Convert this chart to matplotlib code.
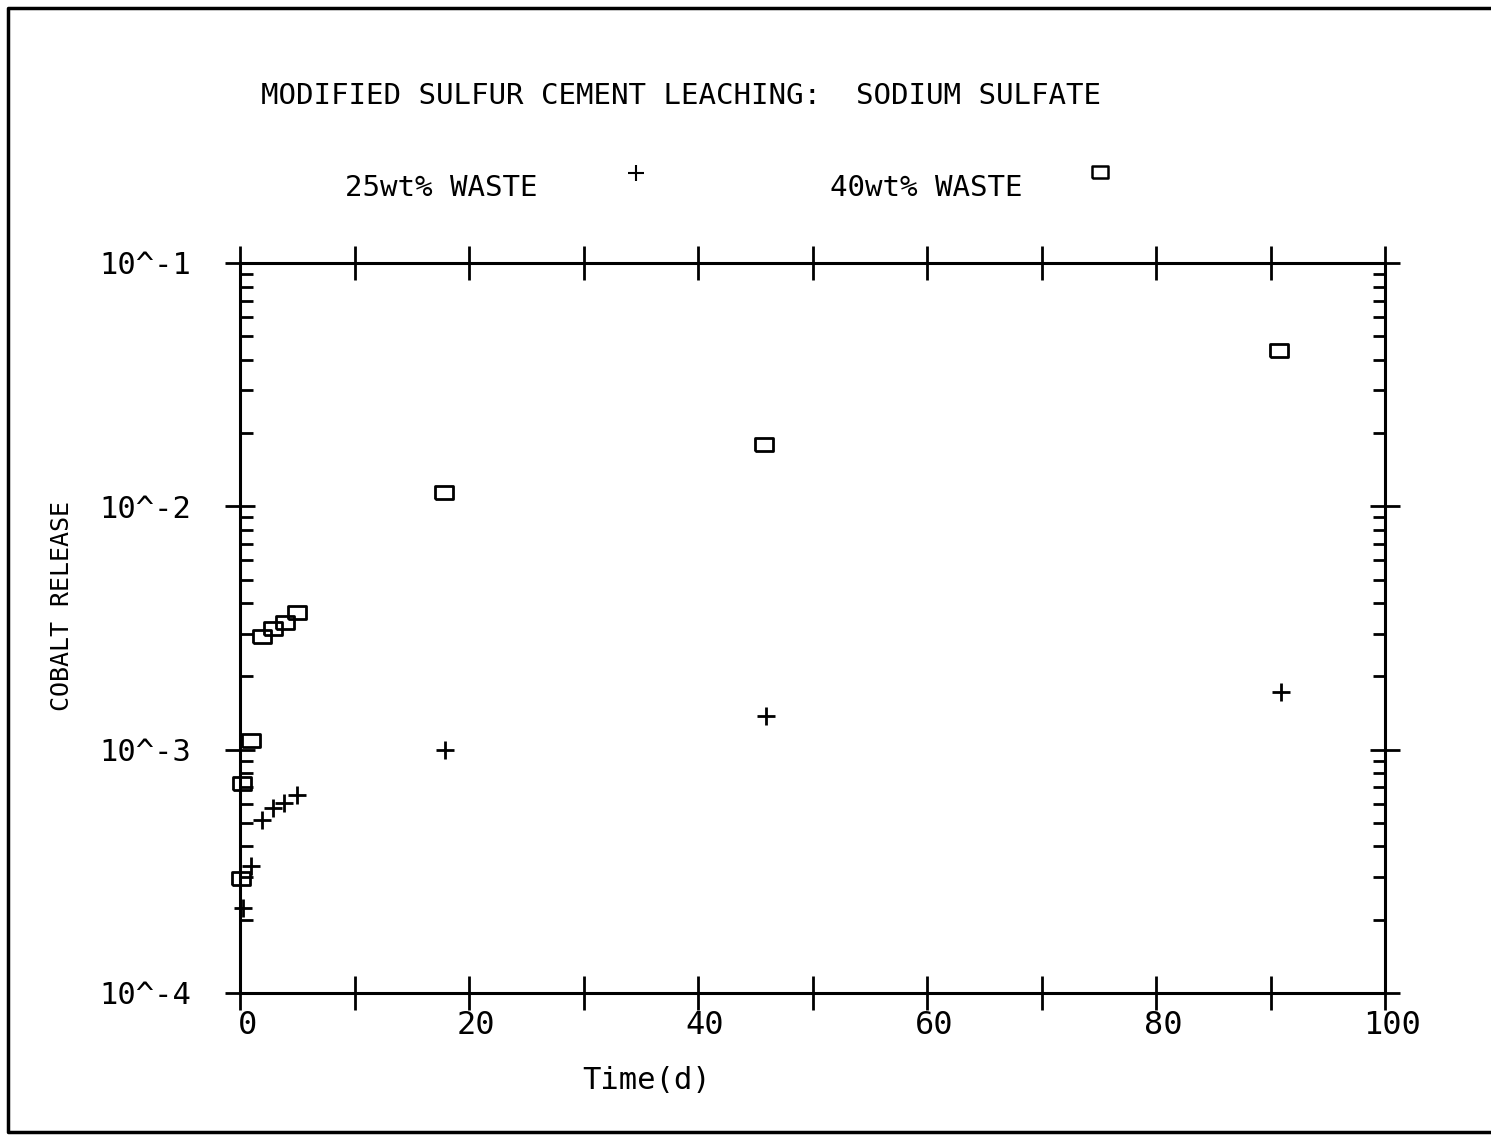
import numpy as np
import matplotlib.pyplot as plt
from matplotlib.lines import Line2D
from matplotlib.transforms import ScaledTranslation

# leach data
time_25 = [0.3, 1.0, 1.9, 2.9, 3.85, 5.0, 17.9, 45.9, 90.9]
release_25 = [2.23e-4, 3.33e-4, 5.14e-4, 5.75e-4, 6.04e-4, 6.5e-4, 1.0e-3, 1.38e-3, 1.73e-3]

time_40 = [0.1, 0.2, 1.0, 1.9, 2.9, 3.9, 5.0, 17.8, 45.8, 90.7]
release_40 = [2.97e-4, 7.3e-4, 1.1e-3, 2.93e-3, 3.16e-3, 3.35e-3, 3.68e-3, 1.146e-2, 1.80e-2, 4.40e-2]

x_ticks = list(range(0, 101, 10))
x_labels = ['0', '', '20', '', '40', '', '60', '', '80', '', '100']
y_ticks = [1e-4, 1e-3, 1e-2, 1e-1]
y_labels = ['10^-4', '10^-3', '10^-2', '10^-1']

FONT = 'DejaVu Sans Mono'
plt.rcParams['font.family'] = FONT

box = [(-1, -0.72), (1, -0.72), (1, 0.72), (-1, 0.72), (-1, -0.72)]

fig = plt.figure(figsize=(14.91, 11.35), dpi=100)
ax = fig.add_axes([240 / 1491, 1 - 993 / 1135, (1385 - 240) / 1491, (993 - 263) / 1135])

ax.plot(time_25, release_25, linestyle='none', marker='+', markersize=13,
        markeredgewidth=2, color='black', clip_on=False)
ax.plot(time_40, release_40, linestyle='none', marker=box, markersize=13,
        markeredgewidth=2, markerfacecolor='none', markeredgecolor='black', clip_on=False)

ax.set_yscale('log')
ax.set_xlim(0, 100)
ax.set_ylim(1e-4, 1e-1)

ax.set_xticks(x_ticks)
ax.set_xticklabels(x_labels, fontsize=23)
ax.set_yticks(y_ticks)
ax.set_yticklabels(y_labels, fontsize=22)

for sp in ax.spines.values():
    sp.set_linewidth(2.2)

ax.tick_params(axis='x', which='major', direction='inout', length=24, width=2,
               top=True, bottom=True, pad=0)
ax.tick_params(axis='y', which='major', direction='inout', length=22, width=2,
               left=True, right=True, pad=24)
ax.tick_params(axis='y', which='minor', direction='in', length=9, width=2,
               left=True, right=True)
ax.tick_params(axis='x', which='minor', bottom=False, top=False)

# plotter labels sit a bit right of the ticks
for lab in ax.get_xticklabels():
    lab.set_transform(lab.get_transform() + ScaledTranslation(0.07, 0, fig.dpi_scale_trans))

ax.set_xlabel('Time(d)', fontsize=22, labelpad=18, x=0.355)
ax.set_ylabel('COBALT RELEASE', fontsize=18)
ax.yaxis.set_label_coords(-0.145, 0.53)

fig.text(681 / 1491, 1 - 96 / 1135, 'MODIFIED SULFUR CEMENT LEACHING:  SODIUM SULFATE',
         fontsize=21, ha='center', va='center')
fig.text(441 / 1491, 1 - 188 / 1135, '25wt% WASTE', fontsize=21, ha='center', va='center')
fig.text(926 / 1491, 1 - 188 / 1135, '40wt% WASTE', fontsize=21, ha='center', va='center')
fig.add_artist(Line2D([636 / 1491], [1 - 173 / 1135], marker='+', markersize=11,
                      markeredgewidth=1.5, color='black', transform=fig.transFigure))
fig.add_artist(Line2D([1100 / 1491], [1 - 172 / 1135], marker=box, markersize=12,
                      markeredgewidth=1.8, markerfacecolor='none', color='black',
                      transform=fig.transFigure))

# page frame
fig.add_artist(Line2D([1.0, 8 / 1491, 8 / 1491, 1.0],
                      [1 - 8 / 1135, 1 - 8 / 1135, 1 - 1132 / 1135, 1 - 1132 / 1135],
                      color='black', linewidth=2.5, transform=fig.transFigure))

fig.savefig('out.png', dpi=100)
